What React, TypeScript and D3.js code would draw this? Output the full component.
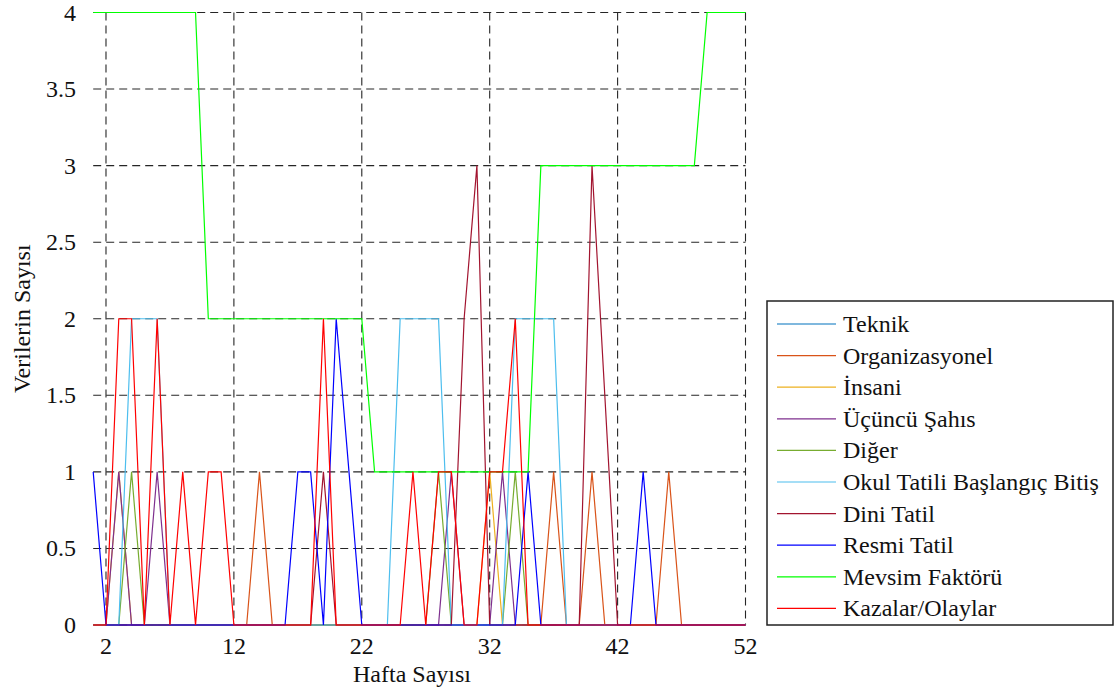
import React from 'react';
import * as d3 from 'd3';

// week 1..52
const weeks = d3.range(1, 53);

const teknik = [0,0,0,0,0,0,0,0,0,0,0,0,0,0,0,0,0,0,0,0,0,0,0,0,0,0,0,0,0,0,0,0,0,0,0,0,0,0,0,0,0,0,0,0,0,0,0,0,0,0,0,0];
const organizasyonel = [0,0,0,0,0,0,0,0,0,0,0,0,0,1,0,0,0,0,0,0,0,0,0,0,0,0,0,0,0,0,0,0,0,0,0,0,1,0,0,1,0,0,0,0,0,1,0,0,0,0,0,0];
const insani = [0,0,1,0,0,0,0,0,0,0,0,0,0,0,0,0,0,0,0,0,0,0,0,0,0,0,0,0,0,0,0,1,0,0,0,0,0,0,0,0,0,0,0,0,0,0,0,0,0,0,0,0];
const ucuncuSahis = [0,0,1,0,0,1,0,0,0,0,0,0,0,0,0,0,0,0,0,0,0,0,0,0,0,0,0,0,1,0,0,0,1,0,0,0,0,0,0,0,0,0,0,0,0,0,0,0,0,0,0,0];
const diger = [0,0,0,1,0,0,0,0,0,0,0,0,0,0,0,0,0,0,0,0,0,0,0,0,0,0,0,1,0,0,0,0,0,1,0,0,0,0,0,0,0,0,0,0,0,0,0,0,0,0,0,0];
const okulTatili = [0,0,0,2,2,2,0,0,0,0,0,0,0,0,0,0,0,0,0,0,0,0,0,0,2,2,2,2,0,0,0,0,0,2,2,2,2,0,0,0,0,0,0,0,0,0,0,0,0,0,0,0];
const diniTatil = [0,0,0,0,0,0,0,0,0,0,0,0,0,0,0,0,0,0,1,0,0,0,0,0,0,0,0,0,0,2,3,0,0,0,0,0,0,0,0,3,1.5,0,0,0,0,0,0,0,0,0,0,0];
const resmiTatil = [1,0,0,0,0,0,0,0,0,0,0,0,0,0,0,0,1,1,0,2,1,0,0,0,0,0,0,0,0,0,0,0,0,0,1,0,0,0,0,0,0,0,0,1,0,0,0,0,0,0,0,0];
const mevsimFaktoru = [4,4,4,4,4,4,4,4,4,2,2,2,2,2,2,2,2,2,2,2,2,2,1,1,1,1,1,1,1,1,1,1,1,1,1,3,3,3,3,3,3,3,3,3,3,3,3,3,4,4,4,4];
const kazalar = [0,0,2,2,0,2,0,1,0,1,1,0,0,0,0,0,0,0,2,0,0,0,0,0,0,1,0,1,1,0,0,1,1,2,0,0,0,0,0,0,0,0,0,0,0,0,0,0,0,0,0,0];

const seriesNames = ['Teknik', 'Organizasyonel', 'İnsani', 'Üçüncü Şahıs', 'Diğer', 'Okul Tatili Başlangıç Bitiş', 'Dini Tatil', 'Resmi Tatil', 'Mevsim Faktörü', 'Kazalar/Olaylar'];
const seriesValues = [teknik, organizasyonel, insani, ucuncuSahis, diger, okulTatili, diniTatil, resmiTatil, mevsimFaktoru, kazalar];
const colors = ['#0072BD', '#D95319', '#EDB120', '#7E2F8E', '#77AC30', '#4DBEEE', '#A2142F', '#0000FF', '#00FF00', '#FF0000'];

const xTicks = [2, 12, 22, 32, 42, 52];
const yTicks = [0, 0.5, 1, 1.5, 2, 2.5, 3, 3.5, 4];

const FONT = '"Liberation Serif", "Times New Roman", serif';

export default function App() {
  const width = 1119;
  const height = 698;

  const x = d3.scaleLinear().domain([1, 52]).range([93.2, 745.5]);
  const y = d3.scaleLinear().domain([0, 4]).range([625, 12.5]);

  const line = d3.line<number>()
    .x((d, i) => x(weeks[i]))
    .y(d => y(d));

  const legendX = 767;
  const legendY = 301;
  const legendRow = 31.6;

  return (
    <svg width={width} height={height} style={{ position: 'absolute', left: 0, top: 0, background: '#fff' }}
      fontFamily={FONT}>
      {/* grid */}
      <g stroke="#262626" strokeWidth={1.1} strokeDasharray="8,5">
        {yTicks.map(t => (
          <line key={'gy' + t} x1={x(1)} x2={x(52)} y1={y(t)} y2={y(t)} />
        ))}
        {xTicks.map(t => (
          <line key={'gx' + t} x1={x(t)} x2={x(t)} y1={y(4)} y2={y(0)} />
        ))}
      </g>

      {/* series */}
      <g fill="none" strokeWidth={1.2}>
        {seriesValues.map((vals, i) => (
          <path key={seriesNames[i]} d={line(vals) || ''} stroke={colors[i]} />
        ))}
      </g>

      {/* tick labels */}
      <g fontSize={24} fill="#111">
        {yTicks.map(t => (
          <text key={'ty' + t} x={76} y={y(t)} textAnchor="end" dominantBaseline="central">{t}</text>
        ))}
        {xTicks.map(t => (
          <text key={'tx' + t} x={x(t)} y={646} textAnchor="middle" dominantBaseline="central">{t}</text>
        ))}
      </g>

      {/* axis titles */}
      <text x={412} y={674} textAnchor="middle" dominantBaseline="central" fontSize={24} fill="#111">Hafta Sayısı</text>
      <text transform={`translate(22,${y(2)}) rotate(-90)`} textAnchor="middle" dominantBaseline="central" fontSize={24} fill="#111">Verilerin Sayısı</text>

      {/* legend */}
      <rect x={legendX} y={legendY} width={346} height={324} fill="#fff" stroke="#222" strokeWidth={1.5} />
      {seriesNames.map((name, i) => {
        const cy = legendY + 23 + i * legendRow;
        return (
          <g key={'lg' + name}>
            <line x1={legendX + 10} x2={legendX + 69} y1={cy} y2={cy} stroke={colors[i]} strokeWidth={1.2} />
            <text x={legendX + 76} y={cy} dominantBaseline="central" fontSize={24} fill="#111">{name}</text>
          </g>
        );
      })}
    </svg>
  );
}
